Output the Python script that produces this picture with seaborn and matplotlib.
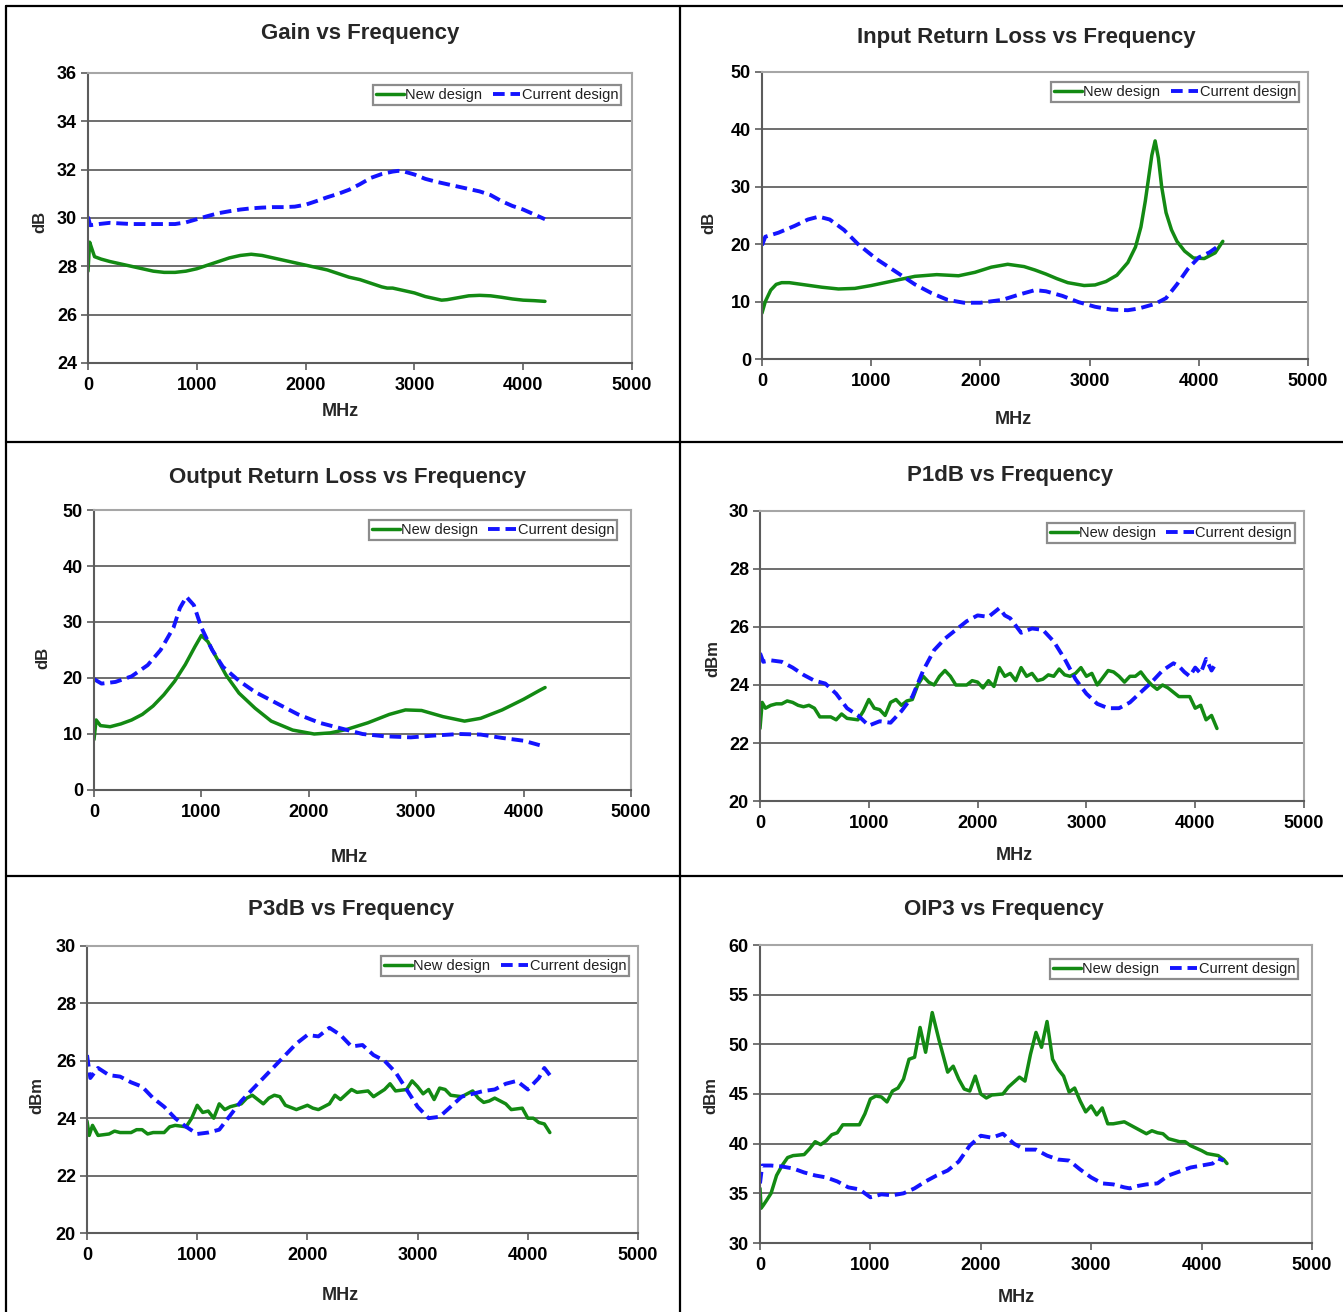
import matplotlib
matplotlib.use('Agg')
import matplotlib.pyplot as plt
from matplotlib.lines import Line2D
import seaborn as sns

# ---- data ----
gain_new_x = [0, 15, 30, 60, 120, 200, 300, 400, 500, 600, 700, 800, 900, 1000, 1100, 1200, 1300, 1400, 1500,
              1600, 1700, 1800, 1900, 2000, 2100, 2200, 2300, 2400, 2500, 2600, 2700, 2750, 2800, 2900, 3000,
              3100, 3200, 3250, 3300, 3400, 3500, 3600, 3700, 3800, 3900, 4000, 4100, 4200]
gain_new_y = [27.8, 29.0, 28.8, 28.4, 28.3, 28.2, 28.1, 28.0, 27.9, 27.8, 27.75, 27.75, 27.8, 27.9, 28.05, 28.2,
              28.35, 28.45, 28.5, 28.45, 28.35, 28.25, 28.15, 28.05, 27.95, 27.85, 27.7, 27.55, 27.45, 27.3,
              27.15, 27.1, 27.1, 27.0, 26.9, 26.75, 26.65, 26.6, 26.62, 26.7, 26.78, 26.8, 26.78, 26.72, 26.65,
              26.6, 26.58, 26.55]
gain_cur_x = [0, 20, 100, 200, 400, 600, 800, 900, 1000, 1100, 1200, 1300, 1400, 1500, 1600, 1700, 1800, 1900,
              2000, 2100, 2200, 2300, 2400, 2500, 2600, 2700, 2800, 2850, 2900, 3000, 3100, 3200, 3300, 3400,
              3500, 3600, 3700, 3800, 3900, 4000, 4100, 4200]
gain_cur_y = [30.05, 29.7, 29.75, 29.8, 29.75, 29.75, 29.75, 29.82, 29.95, 30.08, 30.2, 30.28, 30.35, 30.4, 30.43,
              30.45, 30.45, 30.47, 30.55, 30.7, 30.86, 31.0, 31.17, 31.4, 31.66, 31.82, 31.92, 31.95, 31.93,
              31.8, 31.62, 31.5, 31.4, 31.3, 31.2, 31.1, 30.95, 30.7, 30.5, 30.35, 30.15, 29.95]

irl_new_x = [0, 30, 80, 130, 180, 250, 400, 550, 700, 850, 1000, 1200, 1400, 1600, 1800, 1950, 2100, 2250, 2400,
             2500, 2600, 2700, 2800, 2950, 3050, 3150, 3250, 3350, 3420, 3470, 3510, 3540, 3570, 3600, 3630,
             3660, 3700, 3750, 3800, 3870, 3950, 4050, 4150, 4220]
irl_new_y = [8.0, 10.0, 12.0, 13.0, 13.3, 13.3, 12.9, 12.5, 12.2, 12.3, 12.8, 13.6, 14.4, 14.7, 14.5, 15.1, 16.0,
             16.5, 16.1, 15.5, 14.8, 14.0, 13.3, 12.8, 12.9, 13.5, 14.6, 16.8, 19.5, 23.0, 27.5, 31.5, 35.5,
             38.0, 35.0, 30.0, 25.5, 22.5, 20.5, 18.8, 17.6, 17.5, 18.5, 20.5]
irl_cur_x = [0, 30, 150, 300, 420, 520, 620, 750, 880, 1050, 1250, 1400, 1550, 1700, 1850, 2000, 2200, 2350,
             2500, 2600, 2750, 2900, 3050, 3200, 3350, 3450, 3600, 3700, 3800, 3900, 4000, 4100, 4180]
irl_cur_y = [19.8, 21.3, 22.0, 23.2, 24.3, 24.8, 24.3, 22.5, 20.0, 17.4, 14.9, 13.0, 11.5, 10.3, 9.8, 9.8, 10.3,
             11.2, 12.0, 11.8, 11.0, 9.9, 9.1, 8.6, 8.5, 8.8, 9.6, 10.6, 13.0, 15.7, 17.7, 18.6, 19.7]

orl_new_x = [0, 20, 60, 150, 250, 350, 450, 550, 650, 750, 850, 940, 1000, 1060, 1130, 1230, 1350, 1500, 1650,
             1850, 2050, 2200, 2350, 2550, 2750, 2900, 3050, 3250, 3450, 3600, 3800, 4000, 4150, 4200]
orl_new_y = [9.0, 12.5, 11.5, 11.3, 11.8, 12.5, 13.5, 15.0, 17.0, 19.4, 22.4, 25.6, 27.6, 26.5, 24.0, 20.5, 17.3,
             14.6, 12.3, 10.7, 10.0, 10.2, 10.8, 12.0, 13.5, 14.3, 14.2, 13.1, 12.3, 12.8, 14.3, 16.2, 17.8, 18.3]
orl_cur_x = [0, 70, 200, 350, 500, 620, 740, 800, 860, 930, 1000, 1100, 1200, 1350, 1500, 1700, 1900, 2100,
             2300, 2500, 2700, 2950, 3150, 3400, 3600, 3800, 4000, 4150]
orl_cur_y = [19.8, 19.0, 19.3, 20.3, 22.3, 25.0, 29.0, 32.5, 34.5, 33.0, 29.0, 25.0, 22.0, 19.5, 17.5, 15.5, 13.5,
             12.0, 11.0, 10.0, 9.6, 9.4, 9.7, 10.0, 9.9, 9.3, 8.8, 8.0]

p1_new_x = [0, 20, 50, 100, 150, 200, 250, 300, 350, 400, 450, 500, 550, 600, 650, 700, 750, 800,
            900, 950, 1000, 1050, 1100, 1150, 1200, 1250, 1300, 1350, 1400, 1450, 1500, 1550, 1600, 1650, 1700,
            1750, 1800, 1900, 1950, 2000, 2050, 2100, 2150, 2200, 2250, 2300, 2350, 2400, 2450, 2500, 2550,
            2600, 2650, 2700, 2750, 2800, 2850, 2900, 2950, 3000, 3050, 3100, 3150, 3200, 3250, 3300, 3350,
            3400, 3450, 3500, 3550, 3600, 3650, 3700, 3750, 3800, 3850, 3900, 3950, 4000, 4050, 4100, 4150, 4200]
p1_new_y = [22.5, 23.4, 23.2, 23.3, 23.35, 23.35, 23.45, 23.4, 23.3, 23.25, 23.3, 23.2, 22.9, 22.9, 22.9, 22.8,
            23.0, 22.85, 22.8, 23.1, 23.5, 23.2, 23.15, 22.95, 23.4, 23.5, 23.3, 23.45, 23.5, 24.0, 24.3, 24.1,
            24.0, 24.3, 24.5, 24.3, 24.0, 24.0, 24.15, 24.1, 23.9, 24.15, 23.95, 24.6, 24.3, 24.4, 24.15, 24.6,
            24.3, 24.4, 24.15, 24.2, 24.35, 24.3, 24.55, 24.35, 24.3, 24.4, 24.6, 24.3, 24.4, 24.0, 24.25, 24.5,
            24.45, 24.3, 24.1, 24.3, 24.3, 24.45, 24.2, 24.0, 23.85, 24.0, 23.9, 23.75, 23.6, 23.6, 23.6, 23.2,
            23.3, 22.8, 22.95, 22.5]
p1_cur_x = [0, 30, 100, 200, 300, 400, 500, 600, 700, 800, 900, 1000, 1100, 1200, 1300, 1400, 1500, 1600, 1700,
            1800, 1900, 2000, 2100, 2200, 2250, 2300, 2400, 2500, 2600, 2700, 2800, 2900, 3000, 3100, 3200,
            3300, 3400, 3500, 3600, 3700, 3800, 3850, 3900, 3950, 4000, 4050, 4100, 4150, 4200]
p1_cur_y = [25.1, 24.8, 24.85, 24.8, 24.6, 24.35, 24.15, 24.05, 23.7, 23.2, 22.95, 22.6, 22.75, 22.7, 23.1, 23.6,
            24.5, 25.2, 25.6, 25.9, 26.2, 26.4, 26.35, 26.65, 26.4, 26.3, 25.8, 25.95, 25.9, 25.5, 24.9, 24.2,
            23.7, 23.35, 23.2, 23.2, 23.4, 23.75, 24.1, 24.5, 24.75, 24.65, 24.45, 24.3, 24.6, 24.4, 24.9, 24.5,
            24.8]

p3_new_x = [0, 20, 50, 100, 200, 250, 300, 400, 450, 500, 550, 600, 700, 750, 800, 900, 950, 1000, 1050, 1100,
            1150, 1200, 1250, 1300, 1400, 1450, 1500, 1600, 1650, 1700, 1750, 1800, 1900, 2000, 2050, 2100,
            2200, 2250, 2300, 2400, 2450, 2550, 2600, 2700, 2750, 2800, 2900, 2950, 3000, 3050, 3100, 3150,
            3200, 3250, 3300, 3400, 3500, 3550, 3600, 3650, 3700, 3800, 3850, 3950, 4000, 4050, 4100, 4150, 4200]
p3_new_y = [23.9, 23.4, 23.75, 23.4, 23.45, 23.55, 23.5, 23.5, 23.6, 23.6, 23.45, 23.5, 23.5, 23.7, 23.75, 23.7,
            24.0, 24.45, 24.2, 24.25, 24.0, 24.5, 24.3, 24.4, 24.5, 24.7, 24.8, 24.5, 24.7, 24.8, 24.75, 24.45,
            24.3, 24.45, 24.35, 24.3, 24.5, 24.8, 24.65, 25.0, 24.9, 24.95, 24.75, 25.0, 25.2, 24.95, 25.0, 25.3,
            25.1, 24.85, 25.0, 24.65, 25.05, 25.0, 24.8, 24.75, 24.95, 24.7, 24.55, 24.6, 24.7, 24.5, 24.3,
            24.35, 24.0, 24.0, 23.85, 23.8, 23.5]
p3_cur_x = [0, 30, 100, 200, 300, 400, 500, 600, 700, 800, 900, 1000, 1100, 1200, 1300, 1400, 1500, 1600, 1700,
            1800, 1900, 2000, 2100, 2200, 2300, 2400, 2500, 2600, 2700, 2800, 2900, 3000, 3100, 3200, 3300,
            3400, 3500, 3600, 3700, 3800, 3900, 4000, 4100, 4150, 4200]
p3_cur_y = [26.2, 25.4, 25.75, 25.5, 25.45, 25.25, 25.1, 24.7, 24.4, 24.0, 23.7, 23.45, 23.5, 23.6, 24.1, 24.6,
            25.0, 25.4, 25.8, 26.2, 26.6, 26.9, 26.85, 27.15, 26.9, 26.5, 26.55, 26.2, 26.0, 25.6, 25.0, 24.4,
            24.0, 24.05, 24.4, 24.75, 24.85, 24.95, 25.0, 25.2, 25.3, 25.0, 25.4, 25.75, 25.5]

oip3_new_x = [0, 10, 30, 60, 100, 150, 200, 250, 300, 400, 450, 500, 550, 600, 650, 700, 750, 800, 900, 950,
              1000, 1050, 1100, 1150, 1200, 1250, 1300, 1350, 1400, 1450, 1500, 1560, 1620, 1700, 1750, 1800,
              1850, 1900, 1950, 2000, 2050, 2100, 2200, 2250, 2300, 2350, 2400, 2450, 2500, 2550, 2600, 2650,
              2700, 2750, 2800, 2850, 2900, 2950, 3000, 3050, 3100, 3150, 3200, 3250, 3300, 3400, 3500, 3550,
              3600, 3650, 3700, 3800, 3850, 3900, 4000, 4050, 4100, 4150, 4200, 4230]
oip3_new_y = [35.5, 33.5, 33.8, 34.3, 35.0, 36.8, 37.8, 38.6, 38.8, 38.9, 39.5, 40.2, 39.9, 40.3, 40.9, 41.1,
              41.9, 41.9, 41.9, 43.0, 44.5, 44.8, 44.7, 44.2, 45.3, 45.6, 46.5, 48.5, 48.7, 51.7, 49.2, 53.2,
              50.5, 47.2, 47.8, 46.5, 45.5, 45.3, 46.8, 45.0, 44.6, 44.9, 45.0, 45.7, 46.2, 46.7, 46.3, 49.0,
              51.2, 49.7, 52.3, 48.5, 47.5, 46.8, 45.2, 45.6, 44.3, 43.2, 43.8, 42.9, 43.6, 42.0, 42.0, 42.1,
              42.2, 41.6, 41.0, 41.3, 41.1, 41.0, 40.5, 40.2, 40.2, 39.8, 39.3, 39.0, 38.9, 38.8, 38.4, 38.0]
oip3_cur_x = [0, 20, 100, 200, 300, 400, 500, 600, 700, 800, 900, 1000, 1100, 1200, 1300, 1400, 1500, 1600,
              1700, 1800, 1900, 2000, 2100, 2200, 2300, 2400, 2500, 2600, 2700, 2800, 2900, 3000, 3100, 3200,
              3300, 3350, 3400, 3500, 3600, 3700, 3800, 3900, 4000, 4100, 4150, 4200]
oip3_cur_y = [36.0, 37.8, 37.8, 37.7, 37.5, 37.1, 36.8, 36.6, 36.2, 35.6, 35.4, 34.6, 34.9, 34.8, 35.0, 35.5,
              36.2, 36.8, 37.3, 38.2, 39.8, 40.8, 40.6, 41.0, 40.0, 39.4, 39.4, 38.8, 38.4, 38.3, 37.4, 36.6,
              36.0, 35.9, 35.6, 35.5, 35.7, 35.9, 36.0, 36.8, 37.2, 37.6, 37.8, 38.0, 38.5, 38.3]

titles = ['Gain vs Frequency', 'Input Return Loss vs Frequency', 'Output Return Loss vs Frequency',
          'P1dB vs Frequency', 'P3dB vs Frequency', 'OIP3 vs Frequency']
ylabels = ['dB', 'dB', 'dB', 'dBm', 'dBm', 'dBm']
yranges = [(24, 36, 2), (0, 50, 10), (0, 50, 10), (20, 30, 2), (20, 30, 2), (30, 60, 5)]
series_names = ['New design', 'Current design']
xticks = [0, 1000, 2000, 3000, 4000, 5000]

panels_data = [
    (gain_new_x, gain_new_y, gain_cur_x, gain_cur_y),
    (irl_new_x, irl_new_y, irl_cur_x, irl_cur_y),
    (orl_new_x, orl_new_y, orl_cur_x, orl_cur_y),
    (p1_new_x, p1_new_y, p1_cur_x, p1_cur_y),
    (p3_new_x, p3_new_y, p3_cur_x, p3_cur_y),
    (oip3_new_x, oip3_new_y, oip3_cur_x, oip3_cur_y),
]

# ---- layout in pixels (image is 1343 x 1312) ----
W, H = 1343, 1312
axes_px = [(88, 73, 632, 363), (762, 72, 1308, 359), (94, 510, 631, 790),
           (760, 511, 1304, 801), (87, 946, 638, 1233), (760, 945, 1312, 1243)]
title_px = [(360, 34), (1026, 37), (348, 477), (1010, 476), (351, 910), (1004, 910)]
xlabel_px = [(340, 412), (1013, 420), (349, 858), (1014, 855), (340, 1295), (1016, 1297)]
ylabel_px = [(40, 222), (709, 223), (43, 658), (713, 659), (37, 1096), (711, 1096)]
legend_anchor = [(0.980, 0.959), (0.984, 0.965), (0.974, 0.964), (0.983, 0.959), (0.984, 0.965), (0.975, 0.953)]

GREEN = '#138a13'
BLUE = '#1414ff'

sns.set_theme(style='white')
plt.rcParams['font.family'] = ['Liberation Sans', 'DejaVu Sans']

fig = plt.figure(figsize=(W / 100, H / 100), dpi=100)
fig.patch.set_facecolor('white')

for i, (nx, ny, cx, cy) in enumerate(panels_data):
    l, t, r, b = axes_px[i]
    ax = fig.add_axes([l / W, 1 - b / H, (r - l) / W, (b - t) / H])
    sns.lineplot(x=nx, y=ny, ax=ax, color=GREEN, linewidth=2.5, label=series_names[0],
                 sort=False, estimator=None)
    sns.lineplot(x=cx, y=cy, ax=ax, color=BLUE, linewidth=2.8, label=series_names[1],
                 sort=False, estimator=None, linestyle=(0, (3.0, 1.5)))
    y0, y1, ys = yranges[i]
    ax.set_xlim(0, 5000)
    ax.set_ylim(y0, y1)
    ax.set_xticks(xticks)
    ax.set_yticks(list(range(y0, y1 + 1, ys)))
    ax.set_xlabel('')
    ax.set_ylabel('')
    ax.yaxis.grid(True, color='#555555', linewidth=1.2)
    ax.xaxis.grid(False)
    ax.set_axisbelow(True)
    for side in ['left', 'bottom']:
        ax.spines[side].set_color('#5c5c5c')
        ax.spines[side].set_linewidth(1.5)
    for side in ['top', 'right']:
        ax.spines[side].set_color('#a6a6a6')
        ax.spines[side].set_linewidth(1.5)
    ax.tick_params(axis='both', direction='out', length=5, width=1.2, color='#5c5c5c',
                   labelsize=13, labelcolor='black', left=True, bottom=True)
    ax.tick_params(axis='x', pad=5)
    ax.tick_params(axis='y', pad=3)
    for lab in ax.get_xticklabels() + ax.get_yticklabels():
        lab.set_fontweight('bold')
    leg = ax.legend(loc='upper right', bbox_to_anchor=legend_anchor[i], borderaxespad=0,
                    ncol=2, fontsize=10.5, frameon=True, fancybox=False, framealpha=1,
                    edgecolor='#8c8c8c', borderpad=0.2, handlelength=1.9, handletextpad=0.1,
                    columnspacing=0.7, labelcolor='#202020')
    leg.get_frame().set_linewidth(1.6)

    tx, ty = title_px[i]
    fig.text(tx / W, 1 - ty / H, titles[i], ha='center', va='center', fontsize=16, fontweight='bold')
    mx, my = xlabel_px[i]
    fig.text(mx / W, 1 - my / H, 'MHz', ha='center', va='center', fontsize=13, fontweight='bold')
    lx, ly = ylabel_px[i]
    fig.text(lx / W, 1 - ly / H, ylabels[i], ha='center', va='center', fontsize=12,
             fontweight='bold', rotation=90)

# table-like cell borders
def border(x0, y0, x1, y1):
    fig.add_artist(Line2D([x0 / W, x1 / W], [1 - y0 / H, 1 - y1 / H], color='black', linewidth=1.6))

border(6, 6, 1343, 6)
border(6, 6, 6, 1312)
border(680, 6, 680, 1312)
border(6, 442, 1343, 442)
border(6, 876, 1343, 876)

fig.savefig('out.png', dpi=100, facecolor='white')
